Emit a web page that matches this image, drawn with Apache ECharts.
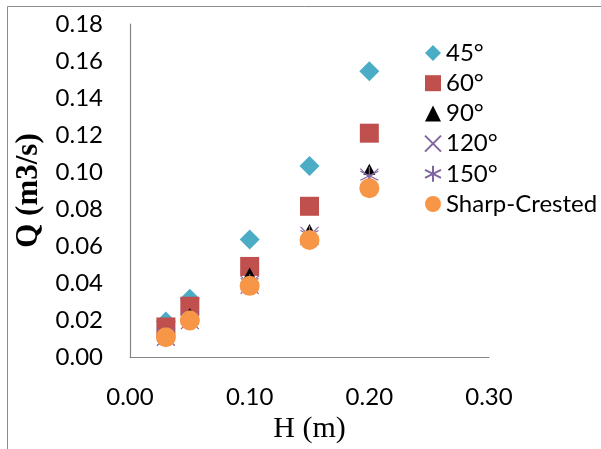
<!DOCTYPE html>
<html>
<head>
<meta charset="utf-8">
<script src="https://cdn.jsdelivr.net/npm/echarts@6/dist/echarts.min.js"></script>
<style>
  html, body { margin: 0; padding: 0; background: #fff; }
  #chart { width: 601px; height: 449px; }
</style>
</head>
<body>
<div id="chart"></div>
<script>
// head H (m) and discharge Q (m3/s) per notch angle
var heads = [0.03, 0.05, 0.10, 0.15, 0.20];
var q45 = [0.0192, 0.0315, 0.0636, 0.1032, 0.1544];
var q60 = [0.0163, 0.0275, 0.0490, 0.0815, 0.1210];
var q90 = [0.0135, 0.0235, 0.0455, 0.0690, 0.1015];
var q120 = [0.0110, 0.0200, 0.0390, 0.0655, 0.0970];
var q150 = [0.0115, 0.0205, 0.0400, 0.0660, 0.0980];
var qSharp = [0.0107, 0.0198, 0.0385, 0.0633, 0.0913];

var seriesNames = ['45°', '60°', '90°', '120°', '150°', 'Sharp-Crested'];

function pairs(ys) {
    return heads.map(function (h, i) { return [h, ys[i]]; });
}

var myChart = echarts.init(document.getElementById('chart'));

var labelFont = 'Lato, "Open Sans", sans-serif';

var option = {
    animation: false,
    backgroundColor: '#fff',
    graphic: [{
        type: 'rect',
        shape: { x: 7.5, y: 6.5, width: 620, height: 460 },
        style: { fill: 'none', stroke: '#8c8c8c', lineWidth: 1 },
        silent: true
    }],
    grid: { left: 130, right: 112, top: 24, bottom: 89 },
    legend: {
        orient: 'vertical',
        left: 424,
        top: 41,
        padding: 0,
        itemGap: 6.2,
        itemWidth: 16,
        itemHeight: 16,
        textStyle: { fontFamily: labelFont, fontSize: 24, lineHeight: 22, color: '#000' },
        data: seriesNames
    },
    xAxis: {
        type: 'value',
        min: 0,
        max: 0.3,
        interval: 0.1,
        name: 'H (m)',
        nameLocation: 'middle',
        nameGap: 56,
        nameTextStyle: { fontFamily: '"Liberation Serif", serif', fontSize: 30, color: '#000' },
        axisLine: { show: true, lineStyle: { color: '#868686', width: 1.2 } },
        axisTick: { show: false },
        splitLine: { show: false },
        axisLabel: {
            margin: 28,
            fontFamily: labelFont,
            fontSize: 24,
            color: '#000',
            formatter: function (v) { return v.toFixed(2); }
        }
    },
    yAxis: {
        type: 'value',
        min: 0,
        max: 0.18,
        interval: 0.02,
        name: 'Q (m3/s)',
        nameLocation: 'middle',
        nameGap: 84,
        nameTextStyle: { fontFamily: '"Liberation Serif", serif', fontWeight: 'bold', fontSize: 31, color: '#000' },
        axisLine: { show: true, lineStyle: { color: '#868686', width: 1.2 } },
        axisTick: { show: false },
        splitLine: { show: false },
        axisLabel: {
            margin: 27,
            fontFamily: labelFont,
            fontSize: 24,
            color: '#000',
            formatter: function (v) { return v.toFixed(2); }
        }
    },
    series: [
        {
            name: '45°', type: 'scatter', data: pairs(q45),
            symbol: 'diamond', symbolSize: 20,
            itemStyle: { color: '#4bacc6', opacity: 1 }
        },
        {
            name: '60°', type: 'scatter', data: pairs(q60),
            symbol: 'rect', symbolSize: 19,
            itemStyle: { color: '#c0504d', opacity: 1 }
        },
        {
            name: '90°', type: 'scatter', data: pairs(q90),
            symbol: 'triangle', symbolSize: [12, 11],
            itemStyle: { color: '#000', opacity: 1 }
        },
        {
            name: '120°', type: 'scatter', data: pairs(q120),
            symbol: 'path://M0,0L10,10M0,10L10,0', symbolSize: 18,
            itemStyle: { color: 'rgba(0,0,0,0)', borderColor: '#8064a2', borderWidth: 1.2, opacity: 1 }
        },
        {
            name: '150°', type: 'scatter', data: pairs(q150),
            symbol: 'path://M5,0L5,10M0,2.5L10,7.5M0,7.5L10,2.5', symbolSize: 18,
            itemStyle: { color: 'rgba(0,0,0,0)', borderColor: '#8064a2', borderWidth: 1.2, opacity: 1 }
        },
        {
            name: 'Sharp-Crested', type: 'scatter', data: pairs(qSharp),
            symbol: 'circle', symbolSize: 20,
            itemStyle: { color: '#f79646', opacity: 1 }
        }
    ]
};

myChart.setOption(option);
</script>
</body>
</html>
